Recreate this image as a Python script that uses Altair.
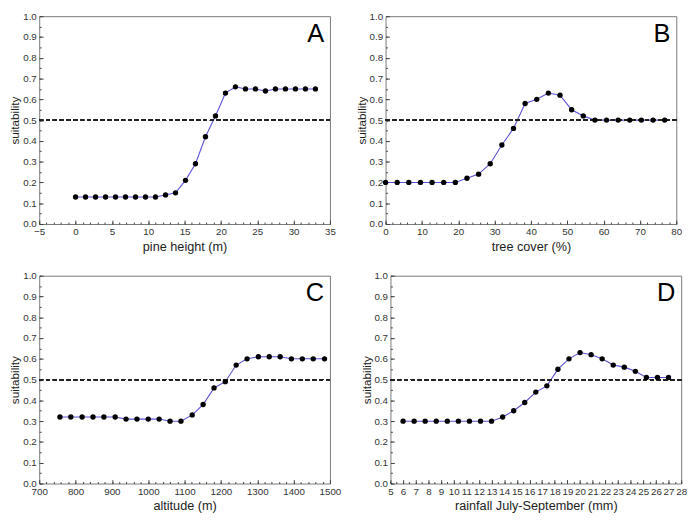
import altair as alt
import pandas as pd

# Panel A: pine height
a_x = [0, 1.375, 2.75, 4.125, 5.5, 6.875, 8.25, 9.625, 11, 12.375, 13.75, 15.125, 16.5,
       17.875, 19.25, 20.625, 22, 23.375, 24.75, 26.125, 27.5, 28.875, 30.25, 31.625, 33]
a_y = [0.13, 0.13, 0.13, 0.13, 0.13, 0.13, 0.13, 0.13, 0.13, 0.14, 0.15, 0.21, 0.29,
       0.42, 0.52, 0.63, 0.66, 0.65, 0.65, 0.64, 0.65, 0.65, 0.65, 0.65, 0.65]

# Panel B: tree cover
b_x = [0, 3.2, 6.4, 9.6, 12.8, 16, 19.2, 22.4, 25.6, 28.8, 32, 35.2, 38.4, 41.6, 44.8,
       48, 51.2, 54.4, 57.6, 60.8, 64, 67.2, 70.4, 73.6, 76.8]
b_y = [0.20, 0.20, 0.20, 0.20, 0.20, 0.20, 0.20, 0.22, 0.24, 0.29, 0.38, 0.46, 0.58, 0.60,
       0.63, 0.62, 0.55, 0.52, 0.50, 0.50, 0.50, 0.50, 0.50, 0.50, 0.50]

# Panel C: altitude
c_x = [757, 787, 818, 848, 878, 909, 939, 969, 1000, 1030, 1060, 1090, 1121, 1151, 1181,
       1212, 1242, 1272, 1303, 1333, 1363, 1394, 1424, 1454, 1485]
c_y = [0.32, 0.32, 0.32, 0.32, 0.32, 0.32, 0.31, 0.31, 0.31, 0.31, 0.30, 0.30, 0.33, 0.38,
       0.46, 0.49, 0.57, 0.60, 0.61, 0.61, 0.61, 0.60, 0.60, 0.60, 0.60]

# Panel D: rainfall
d_x = [6, 6.875, 7.75, 8.625, 9.5, 10.375, 11.25, 12.125, 13, 13.875, 14.75, 15.625, 16.5,
       17.375, 18.25, 19.125, 20, 20.875, 21.75, 22.625, 23.5, 24.375, 25.25, 26.125, 27]
d_y = [0.30, 0.30, 0.30, 0.30, 0.30, 0.30, 0.30, 0.30, 0.30, 0.32, 0.35, 0.39, 0.44, 0.47,
       0.55, 0.60, 0.63, 0.62, 0.60, 0.57, 0.56, 0.54, 0.51, 0.51, 0.51]

threshold = 0.5

W, H = 298, 213
FONT = "Liberation Sans"


def frange(start, stop, step):
    n = int(round((stop - start) / step))
    return [round(start + i * step, 6) for i in range(n + 1)]


def panel(xs, ys, xtitle, dom, major, minor, letter):
    df = pd.DataFrame({"x": xs, "y": ys})
    xmaj = frange(dom[0], dom[1], major)
    xmin = frange(dom[0], dom[1], minor)
    ymaj = frange(0, 1, 0.1)
    ymin = frange(0, 1, 0.05)
    xscale = alt.Scale(domain=dom, nice=False, zero=False)
    yscale = alt.Scale(domain=[0, 1], nice=False)
    xaxis = alt.Axis(values=xmaj, title=xtitle, orient="bottom", offset=-4, tickSize=4,
                     domain=False, grid=False, labelPadding=3, titlePadding=4, format="d",
                     labelFontSize=10, titleFontSize=13, titleFontWeight="normal",
                     labelColor="#333", titleColor="#222", tickColor="#444",
                     labelFlush=False, labelOverlap=False, minExtent=0)
    yaxis = alt.Axis(values=ymaj, title="suitability", orient="left", offset=-4, tickSize=4,
                     domain=False, grid=False, labelPadding=3, titlePadding=1, format=".1f",
                     labelFontSize=10, titleFontSize=12, titleFontWeight="normal",
                     labelColor="#333", titleColor="#222", tickColor="#444",
                     labelFlush=False, minExtent=0)
    xaxis_min = alt.Axis(values=xmin, title=None, orient="bottom", offset=-2, tickSize=2,
                         domain=False, grid=False, labels=False, tickColor="#444",
                         minExtent=0, maxExtent=0)
    yaxis_min = alt.Axis(values=ymin, title=None, orient="left", offset=-2, tickSize=2,
                         domain=False, grid=False, labels=False, tickColor="#444",
                         minExtent=0, maxExtent=0)

    base = alt.Chart(df)
    X = alt.X("x:Q", scale=xscale, axis=xaxis)
    Y = alt.Y("y:Q", scale=yscale, axis=yaxis)
    line = base.mark_line(color="#5a52d6", strokeWidth=1.1).encode(x=X, y=Y)
    pts = base.mark_circle(color="black", size=30, opacity=1).encode(x=X, y=Y)
    rule = base.mark_rule(color="#222", strokeDash=[4, 3], strokeWidth=1.2).encode(
        y=alt.datum(threshold, scale=yscale, axis=yaxis))
    txt = alt.Chart(pd.DataFrame({"l": [letter]})).mark_text(
        align="right", baseline="top", fontSize=26, font=FONT, color="black").encode(
        x=alt.value(W - 6), y=alt.value(5), text="l:N")
    inner = alt.layer(line, rule, pts, txt)
    minor_layer = base.mark_point(opacity=0).encode(
        x=alt.X("x:Q", scale=xscale, axis=xaxis_min),
        y=alt.Y("y:Q", scale=yscale, axis=yaxis_min),
    )
    return alt.layer(inner, minor_layer).resolve_axis(
        x="independent", y="independent").properties(width=W, height=H)


pA = panel(a_x, a_y, "pine height (m)", [-5, 35], 5, 1, "A")
pB = panel(b_x, b_y, "tree cover (%)", [0, 80], 10, 2, "B")
pC = panel(c_x, c_y, "altitude (m)", [700, 1500], 100, 20, "C")
pD = panel(d_x, d_y, "rainfall July-September (mm)", [5, 28], 1, 0.5, "D")

chart = alt.vconcat(
    alt.hconcat(pA, pB, spacing=18),
    alt.hconcat(pC, pD, spacing=18),
    spacing=16,
).properties(padding={"left": 0, "top": -4, "right": 0, "bottom": 0}).configure(
    font=FONT
).configure_view(stroke="#777", strokeWidth=1)

chart.save("out.html", embed_options={"renderer": "svg", "actions": False})
